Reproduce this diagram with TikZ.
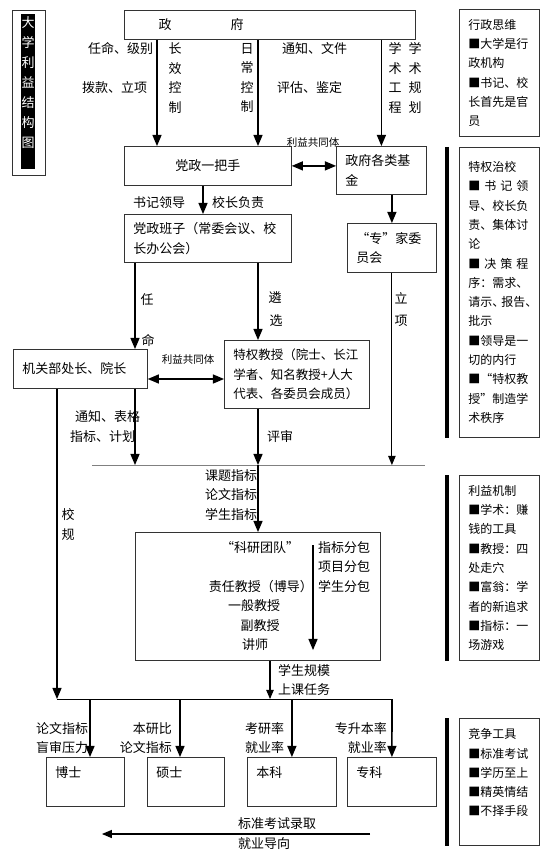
\documentclass[tikz,border=0pt]{standalone}
\usepackage{fontspec}
\setmainfont{Noto Sans CJK SC}
\usetikzlibrary{arrows,positioning}

\begin{document}
\begin{tikzpicture}[x=1pt,y=-1pt,
  box/.style={draw=black!80, line width=0.8pt, anchor=north west, align=left, inner ysep=0pt, inner xsep=9pt, font=\fontsize{13}{19.5}\selectfont},
  note/.style={box, text width=62pt, font=\fontsize{12}{19.3}\selectfont},
  lab/.style={inner sep=0pt, font=\fontsize{13}{19.5}\selectfont},
  vlab/.style={lab, align=center},
  small/.style={inner sep=0pt, font=\fontsize{10.5}{12}\selectfont},
  arr/.style={arrows=-triangle 45, line width=1.6pt},
  darr/.style={arrows=triangle 45-triangle 45, line width=1.6pt},
  bar/.style={line width=4pt}]
 \useasboundingbox (0,0) rectangle (554,853);

 % title
 \node[draw=black!80, anchor=north west, minimum width=33, minimum height=165, inner sep=0] (tbox) at (12,10) {};
 \node[fill=black, anchor=north west, minimum width=14, minimum height=155, inner sep=0] (strip) at (21,14) {};
 \node[vlab, text=white, anchor=north, font=\fontsize{13}{20}\selectfont] (title) at (28,16) {大\\学\\利\\益\\结\\构\\图};

 % columns and rows
 \coordinate (xlong) at (157,0);
 \coordinate (xday) at (258,0);
 \coordinate (xlead) at (203,0);
 \coordinate (xappt) at (135,0);
 \coordinate (xrule) at (57,0);
 \coordinate (xteam) at (270,0);
 \coordinate (xphd) at (90,0);
 \coordinate (xms) at (180,0);
 \coordinate (rpeer) at (0,379);
 \coordinate (busl) at (92,465);
 \coordinate (busr) at (425,465);
 \coordinate (distl) at (57,699);
 \coordinate (distr) at (392,699);
 \coordinate (packa) at (313,545);
 \coordinate (packb) at (313,650);
 \coordinate (exa) at (370,834);
 \coordinate (exb) at (102,834);

 % boxes
 \node[draw=black!80, line width=0.8pt, anchor=north west, minimum width=291, minimum height=29, inner sep=0] (zf) at (124,10) {};
 \node[lab] (zft) at (201,25) {政\hspace{59pt}府};
 \node[box, align=center, text width=149, minimum height=39] (yb) at (124,146) {党政一把手};
 \node[box, text width=72, minimum height=48] (jj) at (336,146) {政府各类基\\金};
 \node[box, text width=149, minimum height=48] (bz) at (124,214) {党政班子（常委会议、校\\长办公会）};
 \node[box, text width=71, minimum height=49] (zj) at (347,223) {“专”家委\\员会};
 \node[box, text width=116, minimum height=39] (jg) at (13,349) {机关部处长、院长};
 \node[box, text width=127, minimum height=68, font=\fontsize{12.5}{19.3}\selectfont] (tq) at (224,340) {特权教授（院士、长江\\学者、知名教授+人大\\代表、各委员会成员）};
 \node[draw=black!80, line width=0.8pt, anchor=north west, minimum width=245, minimum height=128, inner sep=0] (ky) at (135,532) {};
 \node[box, text width=60, minimum height=49] (bs) at (46,757) {博士\\ \mbox{}};
 \node[box, text width=59, minimum height=49] (ss) at (147,757) {硕士\\ \mbox{}};
 \node[box, text width=71, minimum height=49] (bk) at (247,757) {本科\\ \mbox{}};
 \node[box, text width=71, minimum height=49] (zk) at (347,757) {专科\\ \mbox{}};

 % side notes
 \node[note, minimum height=127] (n1) at (459,9) {行政思维\\■大学是行\\政机构\\■书记、校\\长首先是官\\员};
 \node[note, minimum height=290] (n2) at (459,147) {特权治校\\■ 书 记 领\\导、校长负\\责、集体讨\\论\\■ 决 策 程\\序：需求、\\请示、\kern-3pt报告、\\批示\\■领导是一\\切的内行\\■“特权教\\授”制造学\\术秩序};
 \node[note, minimum height=185] (n3) at (459,475) {利益机制\\■学术：赚\\钱的工具\\■教授：四\\处走穴\\■富翁：学\\者的新追求\\■指标：一\\场游戏};
 \node[note, minimum height=127] (n4) at (459,718) {竞争工具\\■标准考试\\■学历至上\\■精英情结\\■不择手段\\ \mbox{}};
 \draw[bar] ([xshift=-12pt]n2.north west) -- ([xshift=-12pt]n2.south west);
 \draw[bar] ([xshift=-12pt]n3.north west) -- ([xshift=-12pt]n3.south west);
 \draw[bar] ([xshift=-12pt]n4.north west) -- ([xshift=-12pt]n4.south west);

 % government down
 \draw[arr] (zf.south -| xlong) -- (yb.north -| xlong);
 \draw[arr] (zf.south -| xday) -- (yb.north -| xday);
 \draw[arr] (zf.south -| jj.north) -- (jj.north);
 \node[lab, anchor=west] (l1) at (88,49) {任命、级别};
 \node[lab, anchor=west] (l2) at (82,88) {拨款、立项};
 \node[vlab] (l3) at (175,78) {长\\效\\控\\制};
 \node[vlab] (l4) at (247,78) {日\\常\\控\\制};
 \node[lab, anchor=west] (l5) at (282,49) {通知、文件};
 \node[lab, anchor=west] (l6) at (277,88) {评估、鉴定};
 \node[vlab] (l7) at (395,78) {学\\术\\工\\程};
 \node[vlab] (l8) at (415,78) {学\\术\\规\\划};

 \draw[darr] (yb.east) -- (yb.east -| jj.west);
 \node[small] (c1) at (313,143) {利益共同体};

 \draw[arr] (yb.south -| xlead) -- (bz.north -| xlead);
 \node[lab, anchor=west] (l9) at (133,203) {书记领导};
 \node[lab, anchor=west] (l10) at (212,203) {校长负责};
 \draw[arr] (jj.south -| zj.north) -- (zj.north);

 % middle layer
 \draw[arr] (bz.south -| xappt) -- (jg.north -| xappt);
 \draw[arr] (bz.south -| xday) -- (tq.north -| xday);
 \node[lab] (l11) at (147,300) {任};
 \node[lab] (l12) at (148,340) {命};
 \node[lab] (l13) at (275,298) {遴};
 \node[lab] (l14) at (276,321) {选};
 \node[lab] (l15) at (401,298) {立};
 \node[lab] (l16) at (401,321) {项};

 \draw[darr] (jg.east |- rpeer) -- (tq.west |- rpeer);
 \node[small] (c2) at (188,360) {利益共同体};

 % to the bus
 \draw[gray, line width=0.8pt] (busl) -- (busr);
 \draw[arr] (jg.south -| xappt) -- (busl -| xappt);
 \draw[arr] (tq.south -| xday) -- (busl -| xday);
 \draw[arrows=-triangle 45, line width=1.1pt] (zj.south) -- (busl -| zj.south);
 \node[lab, anchor=west] (l17) at (75,417) {通知、表格};
 \node[lab, anchor=west] (l18) at (70,437) {指标、计划};
 \node[lab, anchor=west] (l19) at (267,437) {评审};

 % research team
 \draw[arr] (busl -| xday) -- (ky.north -| xday);
 \node[lab, anchor=west, align=left] (l20) at (205,495) {课题指标\\论文指标\\学生指标};
 \node[lab] (k1) at (260,548) {“科研团队”};
 \draw[arr] (packa) -- (packb);
 \node[lab, anchor=west, align=left] (k2) at (318,567) {指标分包\\项目分包\\学生分包};
 \node[lab, anchor=east] (k3) at (313,587) {责任教授（博导）};
 \node[lab] (k4) at (254,606) {一般教授};
 \node[lab] (k5) at (260,626) {副教授};
 \node[lab] (k6) at (255,645) {讲师};

 % down to students
 \draw[arr] (jg.south -| xrule) -- (distl);
 \node[vlab, font=\fontsize{13}{20}\selectfont] (l21) at (68,525) {校\\规};
 \draw[arrows=-triangle 45, line width=1.1pt] (ky.south -| xteam) -- (distl -| xteam);
 \node[lab, anchor=west, align=left] (l22) at (278,680) {学生规模\\上课任务};
 \draw[line width=0.8pt] (distl) -- (distr);
 \draw[arr] (distl -| xphd) -- (bs.north -| xphd);
 \draw[arr] (distl -| xms) -- (ss.north -| xms);
 \draw[arr] (distl -| bk.north) -- (bk.north);
 \draw[arr] (distr) -- (zk.north);
 \node[lab, anchor=west, align=left] (l23) at (36,738) {论文指标\\盲审压力};
 \node[lab, anchor=east, align=right] (l24) at (172,738) {本研比\\论文指标};
 \node[lab, anchor=west, align=left] (l25) at (245,738) {考研率\\就业率};
 \node[lab, anchor=east, align=right] (l26) at (387,738) {专升本率\\就业率};

 % bottom
 \draw[arr, line width=1.3pt] (exa) -- (exb);
 \node[lab, anchor=west] (l27) at (238,824) {标准考试录取};
 \node[lab, anchor=west] (l28) at (238,844) {就业导向};
\end{tikzpicture}
\end{document}
